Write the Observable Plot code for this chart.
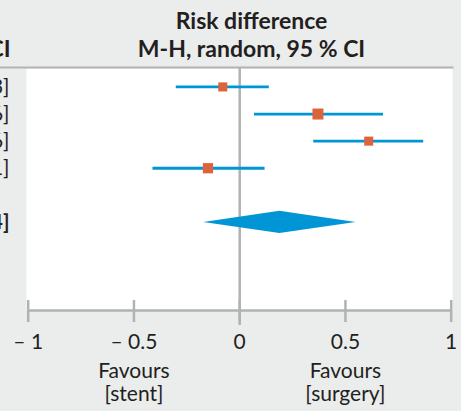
<!DOCTYPE html>
<html><head><meta charset="utf-8">
<script src="https://cdn.jsdelivr.net/npm/d3@7"></script>
<script src="https://cdn.jsdelivr.net/npm/@observablehq/plot@0.6"></script>
<style>
html,body{margin:0;padding:0;background:#ebecec;}
#chart svg{display:block;}
</style></head><body><div id="chart"></div>
<script>
// Study rows (1-4) and pooled summary row
const rows = [1, 2, 3, 4];
const estimate = [-0.08, 0.37, 0.61, -0.15];
const lower = [-0.30, 0.07, 0.35, -0.41];
const upper = [0.14, 0.68, 0.87, 0.12];
const weight = [21, 31, 21, 27];
const rowLabels = ["– 0.08 [– 0.30, 0.13]", "0.37 [0.07, 0.66]", "0.61 [0.35, 0.86]", "– 0.15 [– 0.41, 0.11]"];

const summaryRow = 6;
const summaryEstimate = 0.19;
const summaryLower = -0.17;
const summaryUpper = 0.55;
const summaryLabel = "0.19 [– 0.17, 0.54]";

const axisRow = 9.25;
const tickValues = [-1, -0.5, 0, 0.5, 1];
const tickLabels = ["– 1", "– 0.5", "0", "0.5", "1"];
const favoursAt = [-0.5, 0.5];
const favoursLabels = ["Favours\n[stent]", "Favours\n[surgery]"];
const headerLines = ["Risk difference", "M-H, random, 95 % CI"];
const leftHeader = ["95 % CI"];

const blue = "#0096d6", orange = "#dd633a", grey = "#b1b2b4", ink = "#231f20";

const studies = rows.map((r, i) => ({row: r, est: estimate[i], lo: lower[i], hi: upper[i], w: weight[i], label: rowLabels[i]}));
const halfH = 0.41;
const diamond = [
  {y: summaryRow - halfH, x1: summaryEstimate, x2: summaryEstimate},
  {y: summaryRow, x1: summaryLower, x2: summaryUpper},
  {y: summaryRow + halfH, x1: summaryEstimate, x2: summaryEstimate}
];
const ticks = tickValues.map((v, i) => ({v, label: tickLabels[i]}));
const favours = favoursAt.map((v, i) => ({v, label: favoursLabels[i]}));

const chart = Plot.plot({
  width: 461, height: 411,
  marginTop: 68, marginBottom: 101, marginLeft: 26, marginRight: 9,
  style: {fontFamily: "Lato, sans-serif", background: "#ebecec", color: ink},
  x: {domain: [-1, 1], range: [27.7, 450.7], axis: null},
  y: {domain: [0.32, axisRow], reverse: true, axis: null},
  r: {type: "sqrt", domain: [0, 31], range: [0, 6.2]},
  marks: [
    Plot.frame({fill: "white", stroke: "none"}),
    Plot.frame({anchor: "top", stroke: grey, strokeWidth: 2, insetLeft: -26, insetTop: -1}),
    Plot.ruleX([0], {stroke: grey, strokeWidth: 2.5, insetBottom: -15}),
    Plot.ruleY([axisRow], {x1: d3.min(tickValues), x2: d3.max(tickValues), stroke: grey, strokeWidth: 2.5}),
    Plot.ruleX(ticks, {x: "v", y1: axisRow, y2: axisRow, insetTop: -10, insetBottom: -12, stroke: grey, strokeWidth: 2.5}),
    Plot.ruleY(studies, {y: "row", x1: "lo", x2: "hi", stroke: blue, strokeWidth: 2.8}),
    Plot.dot(studies, {x: "est", y: "row", r: "w", symbol: "square", fill: orange, stroke: "none"}),
    Plot.areaX(diamond, {y: "y", x1: "x1", x2: "x2", fill: blue}),
    Plot.text(studies, {y: "row", text: "label", frameAnchor: "left", lineAnchor: "middle", dx: -17, textAnchor: "end", fontSize: 21, fill: ink}),
    Plot.text([summaryLabel], {y: summaryRow, frameAnchor: "left", lineAnchor: "middle", dx: -17, textAnchor: "end", fontSize: 21, fontWeight: "bold", fill: ink}),
    Plot.text(ticks, {x: "v", y: axisRow, text: "label", dy: 32, fontSize: 21, fill: ink}),
    Plot.text(favours, {x: "v", y: axisRow, text: "label", dy: 72, fontSize: 21, lineHeight: 1.1, fill: ink}),
    Plot.text(headerLines.slice(0, 1), {frameAnchor: "top", lineAnchor: "middle", dx: 12, dy: -47, fontSize: 23, fontWeight: "bold", fill: ink}),
    Plot.text(headerLines.slice(1), {frameAnchor: "top", lineAnchor: "middle", dx: 12, dy: -19, fontSize: 23, fontWeight: "bold", fill: ink}),
    Plot.text(leftHeader, {frameAnchor: "top-left", lineAnchor: "middle", dx: -16, dy: -19, textAnchor: "end", fontSize: 23, fontWeight: "bold", fill: ink})
  ]
});
document.getElementById("chart").appendChild(chart);
</script></body></html>
